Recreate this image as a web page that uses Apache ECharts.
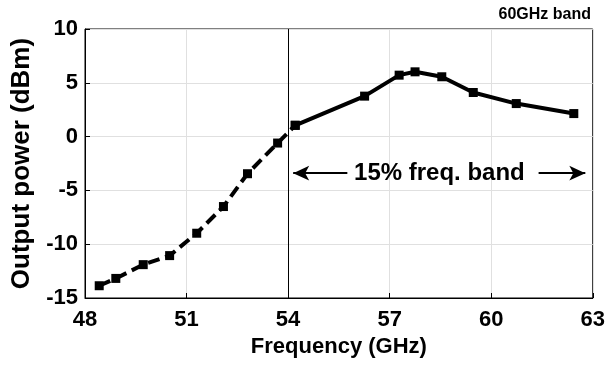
<!DOCTYPE html>
<html>
<head>
<meta charset="utf-8">
<script src="https://cdn.jsdelivr.net/npm/echarts@6/dist/echarts.min.js"></script>
<style>
  html, body { margin: 0; padding: 0; background: #fff; }
  #main { width: 608px; height: 367px; }
</style>
</head>
<body>
<div id="main"></div>
<script>
// measured points, low band part is dashed, the rest solid
var freqLow = [48.42, 48.91, 49.72, 50.5, 51.3, 52.09, 52.8, 53.69, 54.21];
var powLow = [-13.86, -13.18, -11.9, -11.06, -8.98, -6.5, -3.45, -0.6, 1.05];
var freqHigh = [54.21, 56.26, 57.28, 57.75, 58.54, 59.47, 60.74, 62.44];
var powHigh = [1.05, 3.76, 5.71, 6.02, 5.56, 4.1, 3.07, 2.14];
var xTicks = [48, 51, 54, 57, 60, 63];
var yTicks = [-15, -10, -5, 0, 5, 10];

var bandEdge = 54;
var arrowY = -3.4;
var arrowLeft = [55.75, 54.15];
var arrowRight = [61.4, 62.78];
var bandText = '15% freq. band';
var bandTextX = 58.47;

function pairs(xs, ys) {
    var out = [];
    for (var i = 0; i < xs.length; i++) out.push([xs[i], ys[i]]);
    return out;
}

var myChart = echarts.init(document.getElementById('main'));
var font = 'Liberation Sans, Arial, sans-serif';

var option = {
    backgroundColor: '#fff',
    animation: false,
    title: {
        text: '60GHz band',
        right: 12,
        top: 2,
        textStyle: { fontFamily: font, fontWeight: 'bold', fontSize: 16, color: '#000' }
    },
    grid: {
        left: 85, right: 13, top: 29, bottom: 69,
        show: true, borderColor: '#000', borderWidth: 1
    },
    xAxis: {
        type: 'value',
        min: xTicks[0], max: xTicks[xTicks.length - 1], interval: 3,
        name: 'Frequency (GHz)',
        nameLocation: 'middle',
        nameGap: 36,
        nameTextStyle: { fontFamily: font, fontWeight: 'bold', fontSize: 22, color: '#000' },
        axisLine: { onZero: false, lineStyle: { color: '#000', width: 1 } },
        axisTick: { inside: true, length: 5, lineStyle: { color: '#000' } },
        axisLabel: { fontFamily: font, fontWeight: 'bold', fontSize: 22, color: '#000', margin: 11 },
        splitLine: { show: true, lineStyle: { color: '#e0e0e0', width: 1 } }
    },
    yAxis: {
        type: 'value',
        min: yTicks[0], max: yTicks[yTicks.length - 1], interval: 5,
        name: 'Output power (dBm)',
        nameLocation: 'middle',
        nameGap: 42,
        nameTextStyle: { fontFamily: font, fontWeight: 'bold', fontSize: 26, color: '#000' },
        axisLine: { show: true, onZero: false, lineStyle: { color: '#000', width: 1 } },
        axisTick: { show: true, inside: true, length: 5, lineStyle: { color: '#000' } },
        axisLabel: { fontFamily: font, fontWeight: 'bold', fontSize: 22, color: '#000', margin: 7 },
        splitLine: { show: true, lineStyle: { color: '#e0e0e0', width: 1 } }
    },
    series: [
        {
            type: 'line',
            data: pairs(freqLow, powLow),
            symbol: 'rect',
            symbolSize: 9,
            itemStyle: { color: '#000' },
            lineStyle: { color: '#000', width: 4, type: [12, 6] },
            z: 3
        },
        {
            type: 'line',
            data: pairs(freqHigh, powHigh),
            symbol: 'rect',
            symbolSize: 9,
            itemStyle: { color: '#000' },
            lineStyle: { color: '#000', width: 4 },
            z: 3,
            markLine: {
                silent: true,
                symbol: ['none', 'none'],
                label: { show: false },
                lineStyle: { color: '#000', width: 1, type: 'solid' },
                data: [
                    { xAxis: bandEdge },
                    [
                        { coord: [arrowLeft[0], arrowY], symbol: 'none', lineStyle: { width: 2 } },
                        { coord: [arrowLeft[1], arrowY], symbol: 'arrow', symbolSize: [11, 16] }
                    ],
                    [
                        { coord: [arrowRight[0], arrowY], symbol: 'none', lineStyle: { width: 2 } },
                        { coord: [arrowRight[1], arrowY], symbol: 'arrow', symbolSize: [11, 16] }
                    ]
                ]
            },
            markPoint: {
                silent: true,
                symbol: 'circle',
                symbolSize: 1,
                itemStyle: { color: 'rgba(0,0,0,0)' },
                label: {
                    show: true, position: 'inside', formatter: bandText,
                    fontFamily: font, fontWeight: 'bold', fontSize: 24, color: '#000'
                },
                data: [{ coord: [bandTextX, arrowY] }]
            }
        }
    ]
};
myChart.setOption(option);
</script>
</body>
</html>
